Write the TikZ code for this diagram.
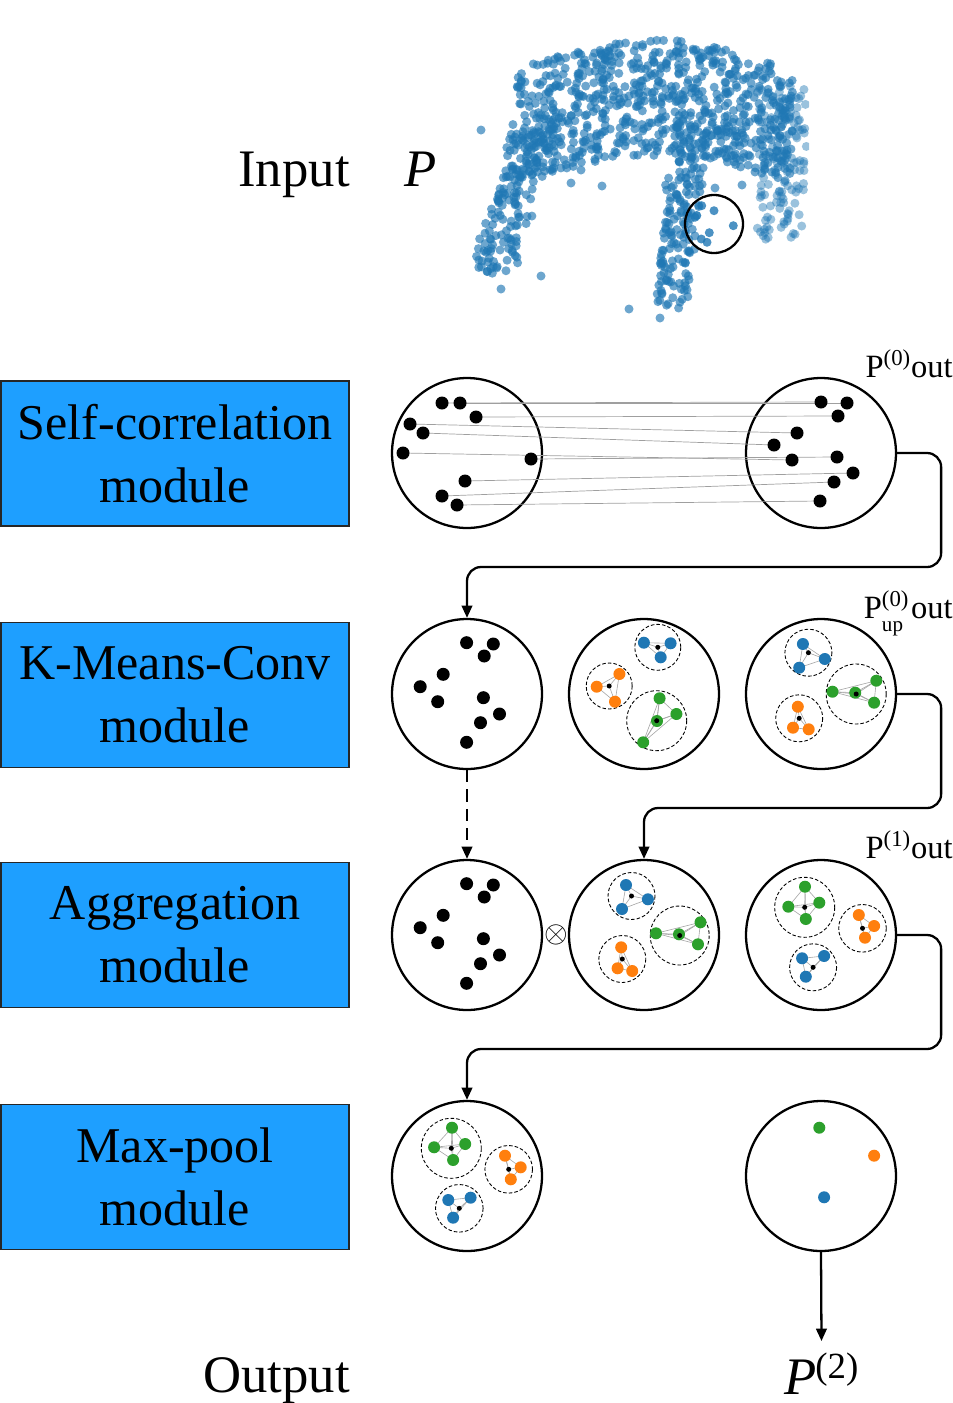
\documentclass[tikz,border=0pt]{standalone}
\usepackage{fontspec}
\setmainfont{Liberation Serif}
\usetikzlibrary{arrows.meta}

\definecolor{modblue}{HTML}{1E9FFF}
\definecolor{ptblue}{HTML}{1F77B4}
\definecolor{ptorange}{HTML}{FF7F0E}
\definecolor{ptgreen}{HTML}{2CA02C}

\tikzset{
  module/.style={draw=black!85, line width=0.8pt, fill=modblue, minimum width=6.96cm,
    minimum height=2.9cm, align=center, inner sep=0, font=\fontsize{28.5}{36}\selectfont},
  ring/.style={circle, draw, line width=1.3pt, minimum size=3cm, inner sep=0},
  flow/.style={line width=1.3pt, -{Triangle[length=7pt,width=6pt]}, rounded corners=8pt},
  tag/.style={inner sep=0, font=\fontsize{18.5}{20}\selectfont},
  big/.style={inner sep=0, font=\fontsize{30}{32}\selectfont},
  hull/.style={line width=0.5pt, dash pattern=on 2pt off 1.2pt},
  link/.style={gray!70, line width=0.35pt},
  corr/.style={gray!75, line width=0.4pt},
  cloud/.style={ptblue, fill opacity=0.65},
}

% one k-means group: colour, centre, radius, points
\newcommand{\grp}[4]{%
  \draw[hull] #2 circle (#3);
  \foreach \a [count=\i] in {#4}{%
    \draw[link] #2 -- \a;
    \foreach \b [count=\j] in {#4}{%
      \ifnum\j>\i \draw[link] \a -- \b; \fi
    }%
  }%
  \foreach \a in {#4} \fill[#1] \a circle (6);
  \fill #2 circle (2.5);
}

\begin{document}
\begin{tikzpicture}[x=0.02cm, y=-0.02cm]
\useasboundingbox (0,0) rectangle (953,1403);

% Input point cloud
\pgfmathsetseed{2024}
\begin{scope}
\clip (470,25) rectangle (809,330);
\foreach \i in {1,...,750}{
  \pgfmathsetmacro{\t}{rand}
  \pgfmathsetmacro{\px}{655+138*\t}
  \pgfmathsetmacro{\py}{98+30*\t*\t+58*rand}
  \fill[cloud] (\px,\py) circle (4.5);
}
\foreach \i in {1,...,170}{
  \pgfmathsetmacro{\s}{rnd}
  \pgfmathsetmacro{\px}{538-45*\s+22*rand}
  \pgfmathsetmacro{\py}{115+155*\s+12*rand}
  \fill[cloud] (\px,\py) circle (4.5);
}
\foreach \i in {1,...,160}{
  \pgfmathsetmacro{\s}{rnd}
  \pgfmathsetmacro{\px}{690-20*\s+18*rand}
  \pgfmathsetmacro{\py}{140+165*\s+10*rand}
  \fill[cloud] (\px,\py) circle (4.5);
}
\foreach \i in {1,...,130}{
  \pgfmathsetmacro{\px}{782+25*rand}
  \pgfmathsetmacro{\py}{85+155*rnd}
  \fill[ptblue, fill opacity=0.45] (\px,\py) circle (4.5);
}
\foreach \px/\py in {501/289, 541/276, 629/309, 660/318, 571/183, 602/186, 500/250,
    481/130, 581/170, 742/185, 755/172, 715/188}
  \fill[cloud] (\px,\py) circle (4.5);
\foreach \px/\py in {701.7/205.7, 714/210.7, 695/217.3, 733.3/225.7, 709.3/232.7,
    701.3/239, 707/242.3}
  \fill[ptblue, fill opacity=0.8] (\px,\py) circle (4.5);
\end{scope}
\draw[line width=1.3pt] (714,224) circle (29);

% Labels
\node[big, anchor=base east] (inlab) at (350,186) {Input};
\node[big, anchor=base] (inP) at (421,186) {\textit{P}};
\node[big, anchor=base east] (outlab) at (350,1392) {Output};
\node[big, anchor=base] (outP) at (822,1394) {\textit{P}\kern-1pt\textsuperscript{(2)}};
\coordinate (outtip) at (821.5,1341);

% Module boxes
\node[module] (m1) at (175,453.5) {Self-correlation\\module};
\node[module] (m2) at (175,695) {K-Means-Conv\\module};
\node[module] (m3) at (175,935) {Aggregation\\module};
\node[module] (m4) at (175,1177) {Max-pool\\module};

% Point sets
\node[ring] (a11) at (467,453) {};
\node[ring] (a12) at (821,453) {};
\node[ring] (a21) at (467,694) {};
\node[ring] (a22) at (644,694) {};
\node[ring] (a23) at (821,694) {};
\node[ring] (a31) at (467,935) {};
\node[ring] (a32) at (644,935) {};
\node[ring] (a33) at (821,935) {};
\node[ring] (a41) at (467,1176) {};
\node[ring] (a42) at (821,1176) {};

\node[tag, anchor=base east] (t1) at (953,377) {P\textsuperscript{(0)}out};
\node[tag, anchor=base east] (t2) at (953,618)
  {P\rlap{\raisebox{-0.42em}{\fontsize{12}{12}\selectfont up}}\textsuperscript{(0)}\kern1pt out};
\node[tag, anchor=base east] (t3) at (953,858) {P\textsuperscript{(1)}out};
\node (times) at (556,935) {\fontsize{16}{16}\selectfont$\otimes$};

% Self-correlation links
\foreach \ax/\ay/\bx/\by in {442/403/821/402, 460/403/847/403, 476/417/838/416,
    410/424/797/433, 423/433/774/445, 403/453/792/460, 531/459/837/457,
    465/481/853/473, 442/496/834/482, 457/505/820/501}
  \draw[corr] (\ax,\ay) -- (\bx,\by);
\foreach \px/\py in {442/403, 460/403, 476/417, 410/424, 423/433, 403/453, 531/459,
    465/481, 442/496, 457/505, 821/402, 847/403, 838/416, 797/433, 774/445,
    792/460, 837/457, 853/473, 834/482, 820/501}
  \fill (\px,\py) circle (6.5);

% Sampled points
\foreach \dy in {0,241}
  \foreach \px/\py in {466.6/642.7, 493.3/644, 484.2/656, 443.2/674.3, 420.2/686.7,
      437.7/701.7, 483.4/697.7, 499.5/714, 480.5/722.7, 466.6/742.3}
    \fill[shift={(0,\dy)}] (\px,\py) circle (6.5);

% Groups
\grp{ptblue}{(657.8,647.3)}{23}{(643.9,642.7),(670.6,643.3),(660.7,657.3)}
\grp{ptorange}{(609.2,686)}{23}{(619.4,674),(596.7,686.7),(615,701.7)}
\grp{ptgreen}{(656.7,720.7)}{30}{(659.6,698.3),(676.4,714),(657,721),(643.2,742.3)}

\grp{ptblue}{(808.4,652.7)}{23.5}{(802.9,644),(824.8,659),(799.2,667.7)}
\grp{ptgreen}{(856.2,694)}{30}{(832.5,691.7),(855.2,692.7),(876.3,680.7),(874.1,702.7)}
\grp{ptorange}{(799.2,718.3)}{23.5}{(797.8,706.7),(793,727.7),(808.7,729.3)}

\grp{ptblue}{(631.5,896)}{23.5}{(626,885),(647.9,899.3),(622,909)}
\grp{ptgreen}{(679.7,935.5)}{29.5}{(656,933.3),(679,934.3),(700.5,922.3),(698,944.3)}
\grp{ptorange}{(622.3,959)}{23.5}{(621.2,947.3),(617.6,968.3),(632.2,971)}

\grp{ptgreen}{(804.7,907.3)}{30}{(805,886.7),(788.3,906.7),(819.3,902.7),(805.8,919)}
\grp{ptorange}{(862.5,928.3)}{23.8}{(858.8,915),(874.1,926),(865,937.7)}
\grp{ptblue}{(813.1,967.3)}{23.5}{(802.1,958.3),(824.1,956),(805.8,976.7)}

\grp{ptgreen}{(451.3,1148.3)}{30}{(452,1127.7),(434.1,1147.3),(465.2,1144),(453.1,1160)}
\grp{ptorange}{(508.7,1169.3)}{23.8}{(505,1155.7),(520.7,1167.3),(510.8,1179.3)}
\grp{ptblue}{(459.3,1208.3)}{23.8}{(448.3,1200),(470.6,1197.7),(453.1,1217.7)}

% Pooled points
\fill[ptgreen] (819.3,1127.7) circle (6);
\fill[ptorange] (874.1,1155.7) circle (6);
\fill[ptblue] (824.1,1197.3) circle (6);

% Draw connectors
\draw[flow] (a12.east) -- ++(44,0) -- ++(0,114) -| (a21.north);
\draw[flow] (a23.east) -- ++(44,0) -- ++(0,114) -| (a32.north);
\draw[flow] (a33.east) -- ++(44,0) -- ++(0,114) -| (a41.north);
\draw[flow, dash pattern=on 7pt off 4pt] (a21.south) -- (a31.north);
\draw[flow] (a42.south) -- (outtip);
\end{tikzpicture}
\end{document}
